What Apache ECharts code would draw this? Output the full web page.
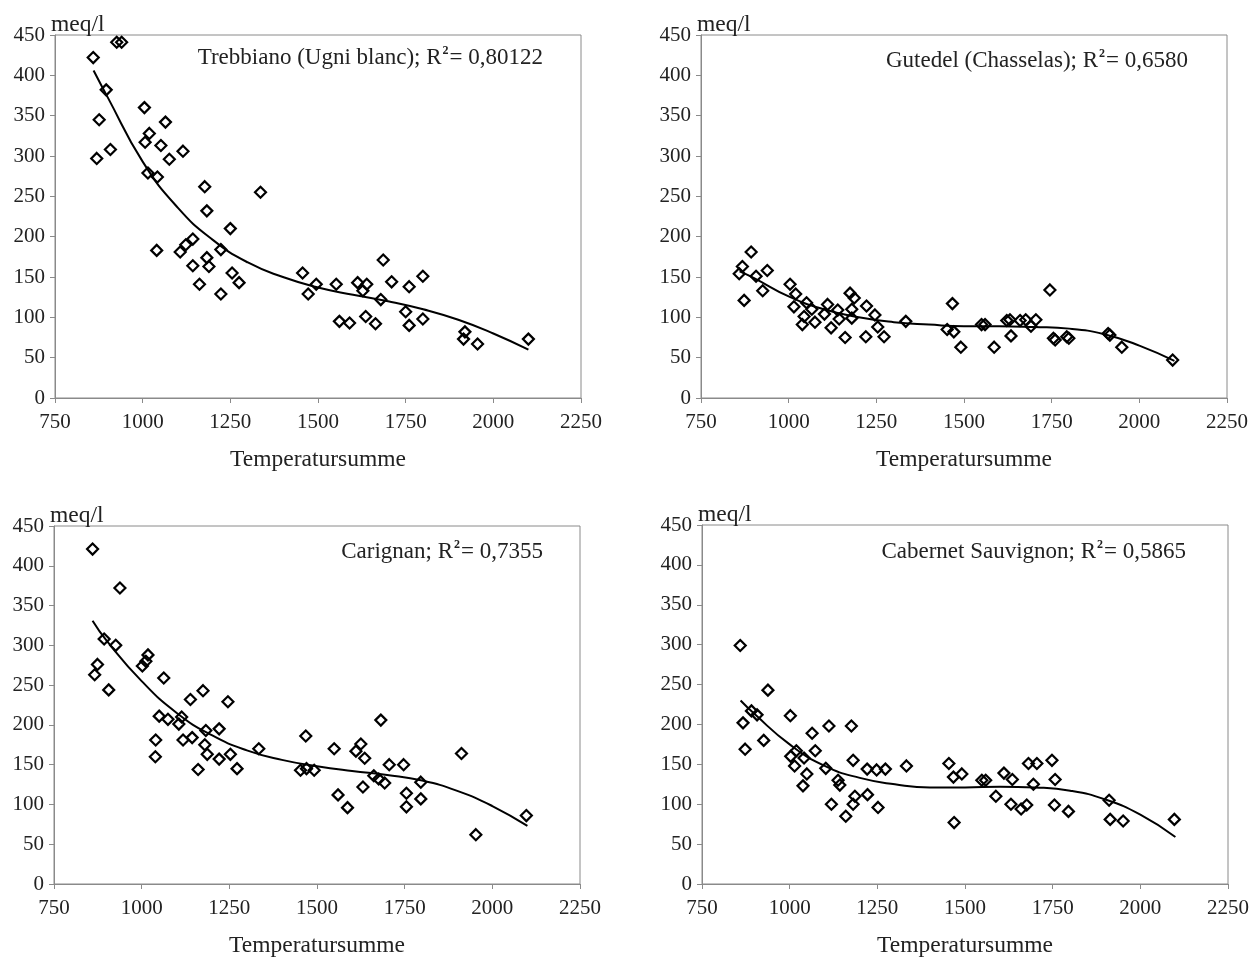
<!DOCTYPE html>
<html>
<head>
<meta charset="utf-8">
<script src="https://cdn.jsdelivr.net/npm/echarts@6/dist/echarts.min.js"></script>
<style>
  html, body { margin: 0; padding: 0; background: #fff; }
  #chart { width: 1255px; height: 959px; }
</style>
</head>
<body>
<div id="chart"></div>
<script>
// measured points [Temperatursumme, meq/l]
const trebbiano = [[859,422],[926,441],[940,441],[896,382],[876,345],[869,297],[908,308],[1005,360],[1019,328],[1007,317],[1065,342],[1052,313],[1076,296],[1115,306],[1015,279],[1042,274],[1177,262],[1183,232],[1336,255],[1250,210],[1040,183],[1107,181],[1123,190],[1143,197],[1223,184],[1183,174],[1189,163],[1143,164],[1255,155],[1275,143],[1162,141],[1223,129],[1456,155],[1495,141],[1472,129],[1552,141],[1613,143],[1639,141],[1628,133],[1561,95],[1590,93],[1636,101],[1664,92],[1679,122],[1686,171],[1710,144],[1750,107],[1760,138],[1760,90],[1799,151],[1799,98],[1919,82],[1915,73],[1955,67],[2100,73]]
const gutedel = [[893,181],[868,163],[859,154],[907,151],[939,158],[873,121],[926,133],[1004,141],[1020,129],[1015,113],[1051,118],[1066,110],[1044,101],[1039,91],[1075,94],[1111,116],[1102,104],[1140,109],[1144,98],[1121,87],[1175,130],[1187,124],[1180,110],[1180,99],[1161,75],[1222,114],[1246,103],[1254,88],[1220,76],[1272,76],[1334,95],[1467,117],[1452,85],[1471,82],[1491,63],[1550,91],[1560,91],[1586,63],[1622,96],[1631,97],[1634,77],[1660,96],[1676,97],[1691,89],[1705,97],[1745,134],[1755,74],[1760,72],[1793,76],[1799,74],[1911,80],[1916,78],[1950,63],[2095,47]]
const carignan = [[860,421],[938,372],[893,308],[926,300],[874,276],[866,263],[906,244],[1018,288],[1012,280],[1002,274],[1063,259],[1050,211],[1075,207],[1114,210],[1106,201],[1040,181],[1039,160],[1139,232],[1175,243],[1246,229],[1183,193],[1221,195],[1118,181],[1144,184],[1180,175],[1187,163],[1221,157],[1253,163],[1161,144],[1272,145],[1334,170],[1468,186],[1453,143],[1470,145],[1492,143],[1549,170],[1560,112],[1587,96],[1611,167],[1625,176],[1636,158],[1631,122],[1662,136],[1676,132],[1682,206],[1693,127],[1706,150],[1747,150],[1755,114],[1755,97],[1796,128],[1796,107],[1912,164],[1953,62],[2097,86]]
const cabernet = [[859,299],[938,243],[891,217],[907,212],[867,202],[873,169],[926,180],[1002,211],[1064,189],[1112,198],[1176,198],[1019,167],[1003,160],[1041,158],[1073,167],[1014,148],[1049,138],[1038,123],[1103,145],[1138,130],[1143,124],[1181,155],[1221,144],[1248,143],[1273,144],[1333,148],[1119,100],[1186,110],[1181,100],[1222,112],[1252,96],[1160,85],[1454,151],[1467,134],[1469,77],[1491,138],[1548,130],[1559,130],[1588,110],[1611,139],[1635,131],[1631,100],[1660,94],[1676,99],[1681,151],[1705,151],[1695,125],[1748,155],[1757,131],[1755,99],[1795,91],[1911,105],[1914,81],[1951,79],[2097,81]]

// polynomial trend lines
const trendX = [860, 900, 1000, 1100, 1200, 1300, 1400, 1500, 1600, 1700, 1800, 1900, 2000, 2100]
const trendTrebbiano = [406, 373, 293, 236, 196, 168, 150, 137, 128, 120, 110, 97, 80, 60]
const trendGutedel = [157, 149, 126, 110, 100, 94, 91, 89, 89, 88, 86, 79, 65, 46]
const trendCarignan = [331, 306, 255, 215, 187, 168, 156, 148, 142, 137, 130, 117, 98, 73]
const trendCabernet = [230, 213, 175, 148, 133, 125, 121, 121, 122, 121, 117, 106, 87, 59]

const titles = [
  ['Trebbiano (Ugni blanc); R', '= 0,80122'],
  ['Gutedel (Chasselas); R', '= 0,6580'],
  ['Carignan; R', '= 0,7355'],
  ['Cabernet Sauvignon; R', '= 0,5865']
]

const font = 'Liberation Serif'
const textColor = '#222'
const axisGray = '#8a8a8a'

const panels = [
  { points: trebbiano, trend: trendTrebbiano, grid: { left: 55, top: 35, width: 526, height: 363 }, title: { right: 712, top: 45 } },
  { points: gutedel, trend: trendGutedel, grid: { left: 701, top: 35, width: 526, height: 363 }, title: { right: 67, top: 48 } },
  { points: carignan, trend: trendCarignan, grid: { left: 54, top: 526, width: 526, height: 364 }, title: { right: 712, top: 539 } },
  { points: cabernet, trend: trendCabernet, grid: { left: 702, top: 525, width: 526, height: 364 }, title: { right: 69, top: 539 } }
]

const chart = echarts.init(document.getElementById('chart'))

chart.setOption({
  backgroundColor: '#fff',
  animation: false,
  title: panels.map((p, i) => ({
    text: '{a|' + titles[i][0] + '}{s|2}{a|' + titles[i][1] + '}',
    right: p.title.right,
    top: p.title.top,
    padding: 0,
    textStyle: {
      rich: {
        a: { fontFamily: font, fontSize: 23, color: textColor, fontWeight: 'normal', lineHeight: 25 },
        s: { fontFamily: font, fontSize: 12, color: textColor, verticalAlign: 'top', lineHeight: 25, padding: [0, 1, 10, 1] }
      }
    }
  })),
  grid: panels.map((p) => ({ ...p.grid, show: true, borderColor: axisGray, borderWidth: 1, containLabel: false })),
  xAxis: panels.map((p, i) => ({
    type: 'value',
    gridIndex: i,
    min: 750,
    max: 2250,
    interval: 250,
    name: 'Temperatursumme',
    nameLocation: 'middle',
    nameGap: 50,
    nameTextStyle: { fontFamily: font, fontSize: 23.5, color: textColor },
    axisLine: { show: true, lineStyle: { color: axisGray, width: 1 } },
    axisTick: { show: true, inside: false, length: 5, lineStyle: { color: axisGray } },
    axisLabel: { fontFamily: font, fontSize: 21, color: textColor, margin: 14, formatter: (v) => String(v) },
    splitLine: { show: false }
  })),
  yAxis: panels.map((p, i) => ({
    type: 'value',
    gridIndex: i,
    min: 0,
    max: 450,
    interval: 50,
    name: 'meq/l',
    nameLocation: 'end',
    nameGap: -2,
    nameTextStyle: { fontFamily: font, fontSize: 23.5, color: textColor, align: 'left', padding: [0, 0, 0, -4] },
    axisLine: { show: true, lineStyle: { color: axisGray, width: 1 } },
    axisTick: { show: true, inside: false, length: 5, lineStyle: { color: axisGray } },
    axisLabel: { fontFamily: font, fontSize: 21, color: textColor, margin: 10 },
    splitLine: { show: false }
  })),
  series: panels.flatMap((p, i) => [
    {
      type: 'line',
      xAxisIndex: i,
      yAxisIndex: i,
      data: trendX.map((x, k) => [x, p.trend[k]]),
      smooth: 0.5,
      showSymbol: false,
      lineStyle: { color: '#000', width: 2 },
      z: 2
    },
    {
      type: 'scatter',
      xAxisIndex: i,
      yAxisIndex: i,
      data: p.points,
      symbol: 'diamond',
      symbolSize: 11,
      itemStyle: { color: 'rgba(0,0,0,0)', borderColor: '#000', borderWidth: 2.2, opacity: 1 },
      z: 3
    }
  ])
})
</script>
</body>
</html>
